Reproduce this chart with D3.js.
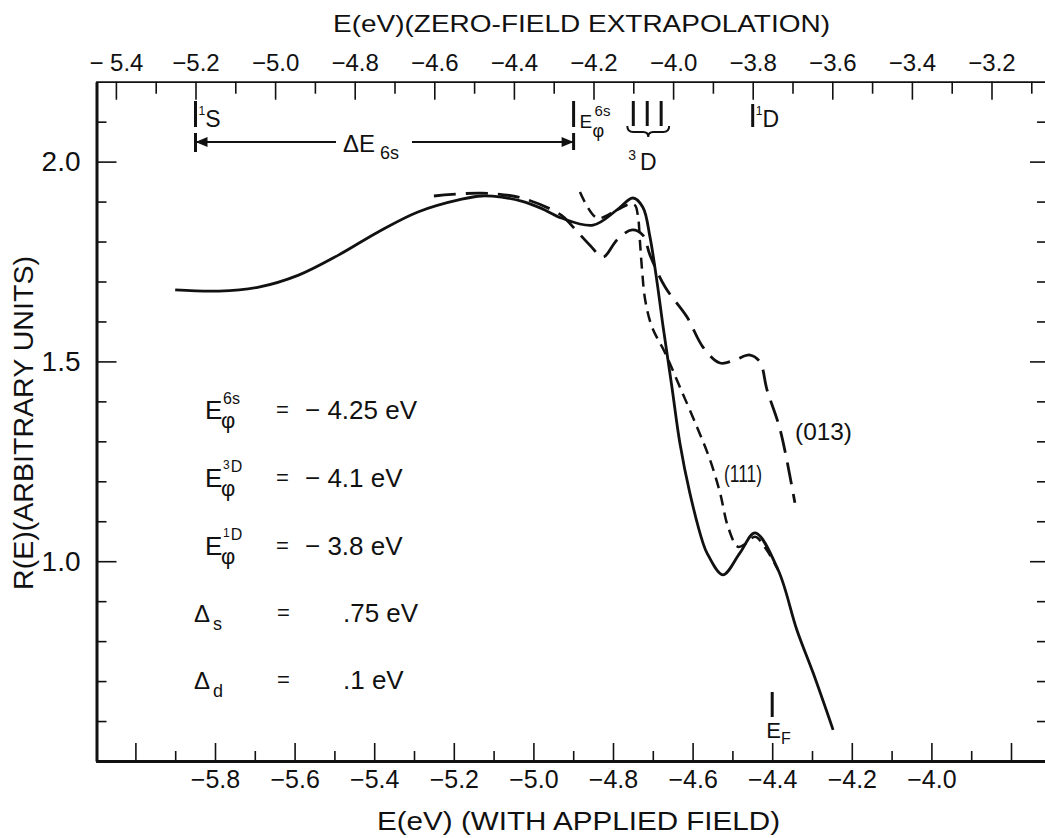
<!DOCTYPE html>
<html>
<head>
<meta charset="utf-8">
<script src="https://cdn.jsdelivr.net/npm/d3@7/dist/d3.min.js"></script>
<style>
  body { margin: 0; background: #fff; }
  svg { font-family: 'Liberation Sans', Arial, sans-serif; fill: #111; }
</style>
</head>
<body>
<svg id="chart" width="1045" height="838"></svg>
<script>
// R(E) curves, E read on the bottom (applied field) axis
const solidE = [-5.90, -5.79, -5.69, -5.59, -5.49, -5.39, -5.29, -5.18, -5.13, -5.08, -5.03, -4.98, -4.93, -4.85, -4.79, -4.75, -4.725, -4.707, -4.689, -4.674, -4.652, -4.632, -4.607, -4.574, -4.564, -4.524, -4.481, -4.443, -4.385, -4.338, -4.297, -4.247]
const solidR = [1.679, 1.676, 1.686, 1.716, 1.766, 1.824, 1.874, 1.906, 1.914, 1.911, 1.901, 1.883, 1.859, 1.841, 1.879, 1.909, 1.886, 1.811, 1.696, 1.586, 1.436, 1.296, 1.171, 1.046, 1.021, 0.966, 1.021, 1.071, 0.978, 0.828, 0.720, 0.578]

const e013 = [-5.25, -5.13, -5.03, -4.93, -4.90, -4.858, -4.825, -4.79, -4.752, -4.725, -4.707, -4.669, -4.614, -4.574, -4.531, -4.493, -4.456, -4.431, -4.413, -4.38, -4.343]
const r013 = [1.914, 1.921, 1.909, 1.866, 1.836, 1.791, 1.761, 1.804, 1.829, 1.816, 1.766, 1.686, 1.611, 1.536, 1.496, 1.504, 1.516, 1.499, 1.429, 1.329, 1.146]

const e111 = [-4.883, -4.84, -4.79, -4.76, -4.745, -4.737, -4.732, -4.727, -4.719, -4.702, -4.669, -4.632, -4.589, -4.556, -4.531, -4.511, -4.486, -4.465, -4.443, -4.415, -4.385]
const r111 = [1.924, 1.859, 1.879, 1.893, 1.891, 1.861, 1.796, 1.729, 1.653, 1.586, 1.521, 1.436, 1.336, 1.253, 1.171, 1.086, 1.036, 1.045, 1.061, 1.03, 0.978]

// ticks
const bottomMajor = [-6.0, -5.8, -5.6, -5.4, -5.2, -5.0, -4.8, -4.6, -4.4, -4.2, -4.0, -3.8]
const bottomLabels = ['', '\u22125.8', '\u22125.6', '\u22125.4', '\u22125.2', '\u22125.0', '\u22124.8', '\u22124.6', '\u22124.4', '\u22124.2', '\u22124.0', '']
const bottomMinor = [-5.9, -5.7, -5.5, -5.3, -5.1, -4.9, -4.7, -4.5, -4.3, -4.1, -3.9]
const topMajor = [-5.4, -5.2, -5.0, -4.8, -4.6, -4.4, -4.2, -4.0, -3.8, -3.6, -3.4, -3.2]
const topLabels = ['\u2212 5.4', '\u22125.2', '\u22125.0', '\u22124.8', '\u22124.6', '\u22124.4', '\u22124.2', '\u22124.0', '\u22123.8', '\u22123.6', '\u22123.4', '\u22123.2']
const topMinor = [-5.3, -5.1, -4.9, -4.7, -4.5, -4.3, -4.1, -3.9, -3.7, -3.5, -3.3, -3.1]
const yMajor = [0.5, 1.0, 1.5, 2.0]
const yLabels = ['', '1.0', '1.5', '2.0']
const yMinor = [0.6, 0.7, 0.8, 0.9, 1.1, 1.2, 1.3, 1.4, 1.6, 1.7, 1.8, 1.9, 2.1]

// level markers on the zero-field scale
const levelS = -5.2
const levelE6s = -4.25
const level3D = [-4.10, -4.065, -4.03]
const level1D = -3.8
const fermiE = -4.4
const fieldShift = 0.649

const params = [
    { sym: 'E', sup: ['6s'], val: '\u2212 4.25 eV' },
    { sym: 'E', sup: ['3', 'D'], val: '\u2212 4.1 eV' },
    { sym: 'E', sup: ['1', 'D'], val: '\u2212 3.8 eV' },
    { sym: '\u0394', sub: 's', val: '.75 eV' },
    { sym: '\u0394', sub: 'd', val: '.1 eV' }
]

const svg = d3.select('#chart')
const ink = '#111'

const x = d3.scaleLinear().domain([-6.1, -3.7]).range([95.6, 1050.8])
const xTop = d3.scaleLinear().domain([-6.1 + fieldShift, -3.7 + fieldShift]).range([95.6, 1050.8])
const y = d3.scaleLinear().domain([0.5, 2.2]).range([761, 81.7])

const styleAxis = (g, width, size) => {
    g.select('.domain').attr('stroke', ink).attr('stroke-width', width)
    g.selectAll('.tick line').attr('stroke', ink).attr('stroke-width', 1.6)
    g.selectAll('.tick text').attr('fill', ink).attr('font-size', size)
}

// bottom axis
svg.append('g')
    .attr('transform', 'translate(0,761)')
    .call(d3.axisBottom(x).tickValues(bottomMajor).tickSize(-18).tickSizeOuter(0).tickPadding(9)
        .tickFormat(d => bottomLabels[bottomMajor.indexOf(d)]))
    .call(g => styleAxis(g, 3, 25))
svg.append('g')
    .attr('transform', 'translate(0,761)')
    .call(d3.axisBottom(x).tickValues(bottomMinor).tickSize(-10).tickFormat(''))
    .call(g => styleAxis(g, 0, 25))

// top axis
svg.append('g')
    .attr('transform', 'translate(0,81.7)')
    .call(d3.axisTop(xTop).tickValues(topMajor).tickSize(-18).tickSizeOuter(0).tickPadding(11)
        .tickFormat(d => topLabels[topMajor.indexOf(d)]))
    .call(g => styleAxis(g, 1.8, 24))
svg.append('g')
    .attr('transform', 'translate(0,81.7)')
    .call(d3.axisTop(xTop).tickValues(topMinor).tickSize(-12).tickFormat(''))
    .call(g => styleAxis(g, 0, 24))

// left axis
svg.append('g')
    .attr('transform', 'translate(96.5,0)')
    .call(d3.axisLeft(y).tickValues(yMajor).tickSize(-20).tickSizeOuter(0).tickPadding(16)
        .tickFormat(d => yLabels[yMajor.indexOf(d)]))
    .call(g => styleAxis(g, 3, 28))
svg.append('g')
    .attr('transform', 'translate(96.5,0)')
    .call(d3.axisLeft(y).tickValues(yMinor).tickSize(-10).tickFormat(''))
    .call(g => styleAxis(g, 0, 28))

// right axis: ticks only, frame edge falls off the page
svg.append('g')
    .attr('transform', 'translate(1045,0)')
    .call(d3.axisRight(y).tickValues(yMajor).tickSize(-15).tickFormat(''))
    .call(g => styleAxis(g, 0, 12))
svg.append('g')
    .attr('transform', 'translate(1045,0)')
    .call(d3.axisRight(y).tickValues(yMinor).tickSize(-8).tickFormat(''))
    .call(g => styleAxis(g, 0, 12))

// axis titles
svg.append('text')
    .attr('x', 333).attr('y', 32)
    .attr('font-size', 24).attr('textLength', 497).attr('lengthAdjust', 'spacingAndGlyphs')
    .text('E(eV)(ZERO-FIELD EXTRAPOLATION)')
svg.append('text')
    .attr('x', 377).attr('y', 830)
    .attr('font-size', 25).attr('textLength', 403).attr('lengthAdjust', 'spacingAndGlyphs')
    .text('E(eV)  (WITH APPLIED FIELD)')
svg.append('text')
    .attr('transform', 'translate(33,590) rotate(-90)')
    .attr('font-size', 27).attr('textLength', 334).attr('lengthAdjust', 'spacingAndGlyphs')
    .text('R(E)(ARBITRARY UNITS)')

// curves
const line = d3.line()
    .x(d => x(d[0]))
    .y(d => y(d[1]))
    .curve(d3.curveCatmullRom.alpha(0.5))

const curves = [
    { pts: d3.zip(solidE, solidR), dash: null, w: 2.8 },
    { pts: d3.zip(e013, r013), dash: '22,10', w: 2.8 },
    { pts: d3.zip(e111, r111), dash: '11,7', w: 2.5 }
]
svg.append('g')
    .selectAll('path')
    .data(curves)
    .enter()
    .append('path')
    .attr('d', d => line(d.pts))
    .attr('fill', 'none')
    .attr('stroke', ink)
    .attr('stroke-width', d => d.w)
    .attr('stroke-dasharray', d => d.dash)

// curve labels
svg.append('text').attr('x', 795).attr('y', 440).attr('font-size', 24)
    .attr('textLength', 57).attr('lengthAdjust', 'spacingAndGlyphs').text('(013)')
svg.append('text').attr('x', 724).attr('y', 482).attr('font-size', 24)
    .attr('textLength', 38).attr('lengthAdjust', 'spacingAndGlyphs').text('(111)')

// level bars along the top
const bar = (px, y1, y2) => svg.append('line')
    .attr('x1', px).attr('x2', px).attr('y1', y1).attr('y2', y2)
    .attr('stroke', ink).attr('stroke-width', 3)

// bar with a small "1" and a letter, as in 1S and 1D
const levelMark = (px, y1, letter) => {
    bar(px, y1, 127)
    svg.append('text').attr('x', px + 3).attr('y', 127).attr('font-size', 23)
        .call(t => t.append('tspan').attr('font-size', 12).attr('dy', -12).text('1'))
        .call(t => t.append('tspan').attr('dy', 12).text(letter))
}

const xs = xTop(levelS)
levelMark(xs, 101, 'S')

const xe = xTop(levelE6s)
bar(xe, 101, 127)
svg.append('text').attr('x', xe + 6).attr('y', 128).attr('font-size', 19).text('E')
svg.append('text').attr('x', xe + 21).attr('y', 116).attr('font-size', 15).text('6s')
svg.append('text').attr('x', xe + 19).attr('y', 137).attr('font-size', 18).text('\u03c6')

level3D.forEach(v => bar(xTop(v), 101, 126))
const bx1 = xTop(level3D[0]) - 6, bx2 = xTop(level3D[2]) + 8, bm = (bx1 + bx2) / 2
svg.append('path')
    .attr('d', `M${bx1},126 Q${bx1},132 ${bx1 + 6},132 L${bm - 5},132 Q${bm},132 ${bm},137 Q${bm},132 ${bm + 5},132 L${bx2 - 6},132 Q${bx2},132 ${bx2},126`)
    .attr('fill', 'none').attr('stroke', ink).attr('stroke-width', 2)
svg.append('text').attr('x', bx1 + 1).attr('y', 170).attr('font-size', 23)
    .call(t => t.append('tspan').attr('font-size', 14).attr('dy', -10).text('3'))
    .call(t => t.append('tspan').attr('dx', 4).attr('dy', 10).text('D'))

const xd = xTop(level1D)
levelMark(xd, 104, 'D')

// delta E_6s arrow
const ay = 142
svg.append('line').attr('x1', xs).attr('x2', 336).attr('y1', ay).attr('y2', ay).attr('stroke', ink).attr('stroke-width', 1.8)
svg.append('line').attr('x1', 412).attr('x2', xe).attr('y1', ay).attr('y2', ay).attr('stroke', ink).attr('stroke-width', 1.8)
bar(xs, 133, 152)
bar(xe, 133, 150)
svg.append('path').attr('d', `M${xs},${ay} L${xs + 12},${ay - 5} L${xs + 12},${ay + 5} Z`).attr('fill', ink)
svg.append('path').attr('d', `M${xe},${ay} L${xe - 12},${ay - 5} L${xe - 12},${ay + 5} Z`).attr('fill', ink)
svg.append('text').attr('x', 343).attr('y', 152).attr('font-size', 24)
    .call(t => t.append('tspan').text('\u0394E'))
    .call(t => t.append('tspan').attr('font-size', 18).attr('dx', 5).attr('dy', 7).text('6s'))

// Fermi level marker
const xf = x(fermiE)
bar(xf, 692, 717)
svg.append('text').attr('x', xf - 6).attr('y', 738).attr('font-size', 22)
    .call(t => t.append('tspan').text('E'))
    .call(t => t.append('tspan').attr('font-size', 16).attr('dy', 6).text('F'))

// parameter list
const rowY = [419, 487, 555, 622, 689]
params.forEach((p, i) => {
    const by = rowY[i]
    const g = svg.append('g')
    if (p.sym === 'E') {
        g.append('text').attr('x', 205).attr('y', by).attr('font-size', 26).text('E')
        const sup = g.append('text').attr('x', 223).attr('y', by - 15).attr('font-size', 16)
        if (p.sup.length === 1) {
            sup.text(p.sup[0])
        } else {
            sup.append('tspan').attr('font-size', 12).attr('dy', -3).text(p.sup[0])
            sup.append('tspan').attr('dx', 1).attr('dy', 3).text(p.sup[1])
        }
        g.append('text').attr('x', 221).attr('y', by + 9).attr('font-size', 22).text('\u03c6')
        g.append('text').attr('x', 276).attr('y', by - 2).attr('font-size', 22).text('=')
        g.append('text').attr('x', 305).attr('y', by).attr('font-size', 26).text(p.val)
    } else {
        g.append('text').attr('x', 194).attr('y', by).attr('font-size', 24)
            .call(t => t.append('tspan').text(p.sym))
            .call(t => t.append('tspan').attr('font-size', 18).attr('dx', 3).attr('dy', 8).text(p.sub))
        g.append('text').attr('x', 277).attr('y', by - 2).attr('font-size', 22).text('=')
        g.append('text').attr('x', 343).attr('y', by).attr('font-size', 26).text(p.val)
    }
})
</script>
</body>
</html>
